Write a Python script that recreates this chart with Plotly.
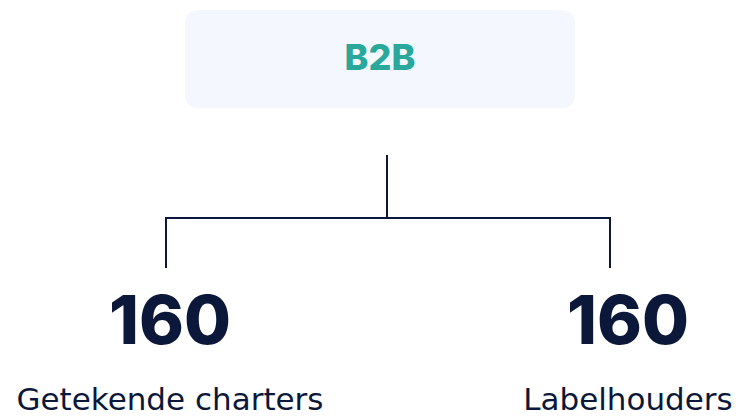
import plotly.graph_objects as go

# data
title_label = "B2B"
categories = ["Getekende charters", "Labelhouders"]
values = [160, 160]

NAVY = "#0b1839"
TEAL = "#2aa89b"
BOX = "#f4f7fe"
W, H = 742, 417

# layout constants (pixel space)
cat_x = [170, 628]
root_x = 387
box = dict(x0=185, x1=575, y0=10, y1=108, r=14)

fig = go.Figure()

# rounded box
x0, x1, y0, y1, r = box["x0"], box["x1"], box["y0"], box["y1"], box["r"]
path = (f"M {x0+r},{y0} L {x1-r},{y0} Q {x1},{y0} {x1},{y0+r} L {x1},{y1-r} Q {x1},{y1} {x1-r},{y1} "
        f"L {x0+r},{y1} Q {x0},{y1} {x0},{y1-r} L {x0},{y0+r} Q {x0},{y0} {x0+r},{y0} Z")
fig.add_shape(type="path", path=path, fillcolor=BOX, line=dict(width=0), layer="below")

# connector lines
line = dict(color=NAVY, width=2)
lx, rx = 166, 610
fig.add_shape(type="line", x0=root_x, x1=root_x, y0=155, y1=218, line=line)
fig.add_shape(type="line", x0=lx, x1=rx, y0=218, y1=218, line=line)
fig.add_shape(type="line", x0=lx, x1=lx, y0=217, y1=268, line=line)
fig.add_shape(type="line", x0=rx, x1=rx, y0=217, y1=268, line=line)

# title
fig.add_trace(go.Scatter(x=[(x0 + x1) / 2], y=[61], mode="text", text=[title_label],
                         textfont=dict(family="Inter", size=36, color=TEAL, weight=800),
                         hoverinfo="skip", showlegend=False))
# numbers
fig.add_trace(go.Scatter(x=cat_x, y=[327] * len(values), mode="text",
                         text=[str(v) for v in values],
                         textfont=dict(family="Inter", size=68, color=NAVY, weight=800),
                         hoverinfo="skip", showlegend=False))
# labels
fig.add_trace(go.Scatter(x=cat_x, y=[402] * len(categories), mode="text", text=categories,
                         textfont=dict(family="DejaVu Sans", size=31, color=NAVY, weight=400),
                         hoverinfo="skip", showlegend=False))

fig.update_layout(
    width=W, height=H, margin=dict(l=0, r=0, t=0, b=0),
    paper_bgcolor="white", plot_bgcolor="white",
    xaxis=dict(range=[0, W], visible=False, fixedrange=True),
    yaxis=dict(range=[H, 0], visible=False, fixedrange=True),
)
fig.write_html("out.html", post_script="document.body.style.margin='0';",
               config={"displayModeBar": False})
